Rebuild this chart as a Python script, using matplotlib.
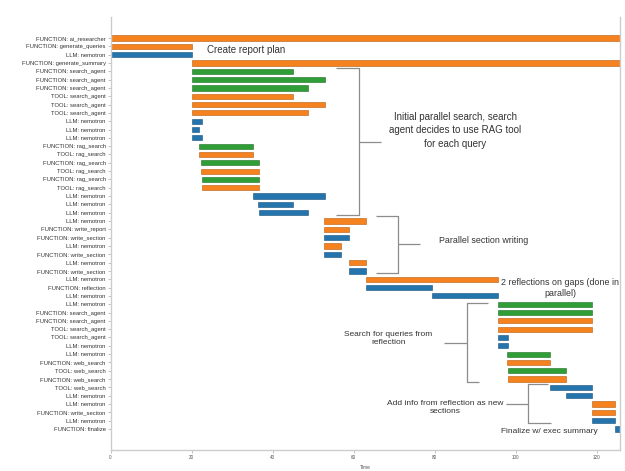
import matplotlib
matplotlib.use("Agg")
import matplotlib.pyplot as plt

plt.rcParams['font.family'] = ['Liberation Sans', 'DejaVu Sans']

# row labels, top to bottom
labels = [
    "FUNCTION: ai_researcher", "FUNCTION: generate_queries", "LLM: nemotron",
    "FUNCTION: generate_summary",
    "FUNCTION: search_agent", "FUNCTION: search_agent", "FUNCTION: search_agent",
    "TOOL: search_agent", "TOOL: search_agent", "TOOL: search_agent",
    "LLM: nemotron", "LLM: nemotron", "LLM: nemotron",
    "FUNCTION: rag_search", "TOOL: rag_search", "FUNCTION: rag_search",
    "TOOL: rag_search", "FUNCTION: rag_search", "TOOL: rag_search",
    "LLM: nemotron", "LLM: nemotron", "LLM: nemotron", "LLM: nemotron",
    "FUNCTION: write_report", "FUNCTION: write_section", "LLM: nemotron",
    "FUNCTION: write_section", "LLM: nemotron", "FUNCTION: write_section",
    "LLM: nemotron", "FUNCTION: reflection", "LLM: nemotron", "LLM: nemotron",
    "FUNCTION: search_agent", "FUNCTION: search_agent",
    "TOOL: search_agent", "TOOL: search_agent",
    "LLM: nemotron", "LLM: nemotron",
    "FUNCTION: web_search", "TOOL: web_search", "FUNCTION: web_search", "TOOL: web_search",
    "LLM: nemotron", "LLM: nemotron", "FUNCTION: write_seciton", "LLM: nemotron",
    "FUNCTION: finalize",
]

starts = [
    0, 0, 0, 20,
    20, 20, 20, 20, 20, 20,
    20, 20, 20,
    21.8, 21.8, 22.3, 22.3, 22.5, 22.5,
    35.1, 36.4, 36.6,
    52.7, 52.7, 52.7, 52.7, 52.7, 58.8, 58.8,
    63.0, 63.0, 79.3,
    95.6, 95.6, 95.6, 95.6, 95.6, 95.6,
    97.9, 97.9, 98.1, 98.1,
    108.5, 112.4,
    118.7, 118.7, 118.7, 124.5,
]

ends = [
    126, 20, 20, 126,
    45.0, 52.9, 48.7, 45.0, 52.9, 48.7,
    22.5, 21.8, 22.5,
    35.1, 35.1, 36.6, 36.6, 36.6, 36.6,
    52.9, 45.0, 48.7,
    63.0, 58.8, 58.8, 56.9, 56.9, 63.0, 63.0,
    95.6, 79.3, 95.6,
    118.7, 118.7, 118.7, 118.7, 98.1, 98.1,
    108.5, 108.5, 112.4, 112.4,
    118.7, 118.7,
    124.5, 124.5, 124.5, 126,
]

kinds = (["o", "o", "b", "o"] + ["g"] * 3 + ["o"] * 3 + ["b"] * 3
         + ["g", "o"] * 3 + ["b"] * 3
         + ["o", "o", "b", "o", "b", "o", "b", "o", "b", "b"]
         + ["g", "g", "o", "o", "b", "b", "g", "o", "g", "o", "b", "b"]
         + ["o", "o", "b", "b"])

palette = {"o": "#f5821f", "g": "#2f9e36", "b": "#2474ad"}
edges = {"o": "#b85d10", "g": "#1f6e25", "b": "#17507a"}

xticks = [0, 20, 40, 60, 80, 100, 120]

fig = plt.figure(figsize=(6.25, 4.71), dpi=100)
ax = fig.add_axes([0.1768, 0.0446, 0.992 - 0.1768, 0.9639 - 0.0446])

rows = list(range(len(labels)))
ax.barh(rows, [e - s for s, e in zip(starts, ends)], left=starts, height=0.62,
        color=[palette[k] for k in kinds], edgecolor=[edges[k] for k in kinds],
        linewidth=0.4)

ax.set_ylim(len(labels) - 1 + 2.53, -2.53)
ax.set_xlim(0, 125.7)
ax.set_yticks(rows)
ax.set_yticklabels(labels, fontsize=4.2, color="#333333")
ax.set_xticks(xticks)
ax.set_xticklabels([str(t) for t in xticks], fontsize=3.3, color="#555555")
ax.set_xlabel("Time", fontsize=3.5, color="#555555", labelpad=4)
ax.tick_params(length=2, width=0.5, color="#aaaaaa", pad=1.5)
for side in ["left", "bottom", "right"]:
    ax.spines[side].set_color("#cccccc")
    ax.spines[side].set_linewidth(1.0)
ax.spines["top"].set_visible(False)

lc = "#8c8c8c"
lw = 0.9
tc = "#333333"


def line(xs, ys):
    ax.plot(xs, ys, color=lc, lw=lw, solid_capstyle="butt", clip_on=False)


ax.text(23.8, 1.44, "Create report plan", fontsize=7.0, color=tc, ha="left", va="center")

# bracket: initial parallel search
line([55.6, 61.3, 61.3, 55.6], [3.6, 3.6, 21.3, 21.3])
line([61.3, 66.7], [12.5, 12.5])
ax.text(85.0, 11.1, "Initial parallel search, search\nagent decides to use RAG tool\nfor each query",
        fontsize=7.0, color=tc, ha="center", va="center", linespacing=1.45)

# bracket: parallel section writing
line([65.5, 70.9, 70.9, 65.5], [21.4, 21.4, 28.2, 28.2])
line([70.9, 76.4], [24.8, 24.8])
ax.text(81.0, 24.4, "Parallel section writing", fontsize=6.4, color=tc, ha="left", va="center")

ax.text(111.0, 30.0, "2 reflections on gaps (done in\nparallel)", fontsize=6.4, color=tc,
        ha="center", va="center", linespacing=1.3)

# bracket: search from reflection
line([93.2, 88.0, 88.0, 90.9], [31.8, 31.8, 41.4, 41.4])
line([82.3, 88.0], [36.7, 36.7])
ax.text(68.5, 36.1, "Search for queries from\nreflection", fontsize=6.0, color=tc,
        ha="center", va="center", linespacing=1.3)

# bracket: add info from reflection
line([108.0, 103.0, 103.0, 108.7], [41.6, 41.6, 46.3, 46.3])
line([97.6, 103.0], [44.0, 44.0])
ax.text(82.5, 44.4, "Add info from reflection as new\nsections", fontsize=6.0, color=tc,
        ha="center", va="center", linespacing=1.3)

ax.text(108.2, 47.3, "Finalize w/ exec summary", fontsize=6.0, color=tc, ha="center", va="center")

fig.savefig("out.png", dpi=100)
